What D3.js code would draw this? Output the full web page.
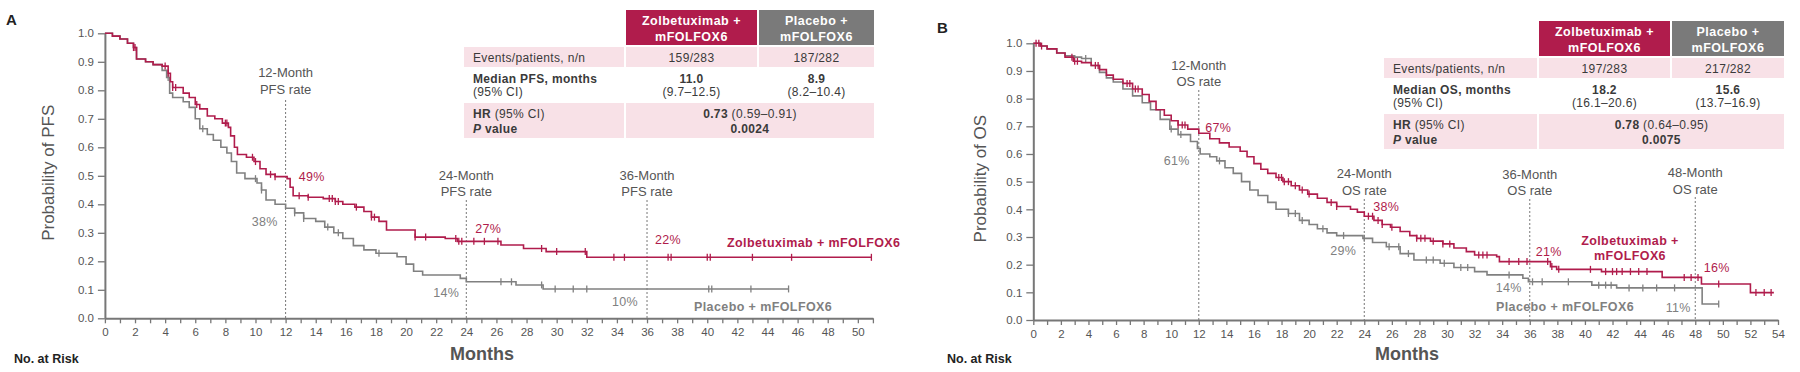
<!DOCTYPE html>
<html>
<head>
<meta charset="utf-8">
<script src="https://cdn.jsdelivr.net/npm/d3@7/dist/d3.min.js"></script>
<style>
  body { margin: 0; background: #fff; }
  text { font-family: "Liberation Sans", Arial, sans-serif; }
</style>
</head>
<body>
<svg id="chart" width="1800" height="372"></svg>
<script>
// ---- data ----
const probLabels = [0, 0.1, 0.2, 0.3, 0.4, 0.5, 0.6, 0.7, 0.8, 0.9, 1.0];
const pfsMonthLabels = [0, 2, 4, 6, 8, 10, 12, 14, 16, 18, 20, 22, 24, 26, 28, 30, 32, 34, 36, 38, 40, 42, 44, 46, 48, 50];
const osMonthLabels = [0, 2, 4, 6, 8, 10, 12, 14, 16, 18, 20, 22, 24, 26, 28, 30, 32, 34, 36, 38, 40, 42, 44, 46, 48, 50, 52, 54];

const seriesNames = ["Zolbetuximab + mFOLFOX6", "Placebo + mFOLFOX6"];

// KM steps: [month, survival after the drop]
const pfsZolb = [[0,1.0],[0.5,0.99],[1,0.98],[1.5,0.965],[1.9,0.95],[2.1,0.91],[2.7,0.90],[3.2,0.89],[3.8,0.885],
  [4.2,0.86],[4.35,0.83],[4.5,0.81],[5.2,0.79],[5.6,0.775],[6.0,0.75],[6.3,0.735],[6.8,0.71],[7.3,0.70],[7.8,0.685],
  [8.2,0.67],[8.35,0.64],[8.6,0.60],[8.8,0.575],[9.4,0.565],[9.9,0.55],[10.3,0.525],[10.7,0.505],[11.3,0.497],
  [12.1,0.49],[12.3,0.46],[12.5,0.43],[13.5,0.425],[14.5,0.42],[15.3,0.41],[15.8,0.40],[16.6,0.39],[17.2,0.375],
  [17.7,0.355],[18.2,0.34],[18.7,0.31],[20.6,0.285],[22.6,0.28],[23.4,0.27],[26.3,0.257],[27.8,0.245],[29.3,0.234],
  [32.0,0.214],[50.9,0.214]];
const pfsPlacebo = [[0,1.0],[0.5,0.99],[1,0.98],[1.5,0.965],[1.9,0.95],[2.1,0.91],[2.7,0.90],[3.2,0.89],[3.8,0.87],
  [4.1,0.845],[4.3,0.79],[4.5,0.775],[5.2,0.76],[5.6,0.74],[6.0,0.70],[6.3,0.665],[6.8,0.645],[7.2,0.625],[7.7,0.60],
  [8.1,0.58],[8.4,0.55],[8.75,0.51],[9.3,0.49],[10.1,0.475],[10.4,0.45],[10.7,0.415],[11.3,0.40],[12.0,0.386],
  [12.6,0.37],[13.2,0.35],[14.0,0.34],[14.6,0.32],[15.2,0.30],[15.8,0.28],[16.5,0.255],[17.2,0.24],[18.0,0.228],
  [19.4,0.216],[20.0,0.19],[20.5,0.165],[21.1,0.152],[23.6,0.14],[24.0,0.128],[27.3,0.117],[29.1,0.103],[45.4,0.103]];
const pfsCensorZolb = [1.9,2.0,4.0,4.2,4.5,4.7,6.1,8.0,8.1,9.8,10.0,11.0,11.3,12.9,13.5,14.9,15.1,15.3,15.5,16.7,
  17.7,17.9,20.6,21.3,23.3,23.5,23.7,24.5,25.2,26.1,29.0,30.0,31.9,33.8,34.5,37.4,37.6,40.0,40.2,43.0,45.6,50.9];
const pfsCensorPlacebo = [4.2,6.5,10.0,10.4,12.6,13.2,14.8,15.5,18.2,26.3,27.0,29.0,29.9,31.1,32.0,40.1,40.3,42.9,45.4];

const osZolb = [[0,1.0],[0.5,0.99],[1,0.98],[1.7,0.965],[2.3,0.95],[2.9,0.935],[3.5,0.93],[4.2,0.92],[4.8,0.905],
  [5.3,0.885],[5.8,0.87],[6.5,0.855],[7.2,0.835],[7.9,0.815],[8.4,0.79],[8.9,0.76],[9.5,0.74],[10.0,0.72],[10.5,0.705],
  [11.2,0.69],[12.0,0.675],[12.8,0.655],[13.5,0.64],[14.2,0.625],[15.0,0.61],[15.5,0.59],[16.0,0.565],[16.5,0.545],
  [17.0,0.53],[17.6,0.515],[18.1,0.50],[18.7,0.485],[19.3,0.47],[19.9,0.455],[20.6,0.44],[21.3,0.425],[22.0,0.41],
  [23.0,0.40],[23.5,0.39],[24.0,0.375],[24.7,0.36],[25.3,0.345],[25.9,0.335],[26.6,0.32],[27.3,0.305],[27.8,0.295],
  [28.8,0.285],[29.7,0.275],[30.5,0.26],[31.4,0.247],[32.0,0.235],[33.6,0.229],[33.8,0.211],[37.5,0.193],[37.95,0.183],
  [41.2,0.175],[45.6,0.154],[48.45,0.13],[52.0,0.099],[53.7,0.099]];
const osPlacebo = [[0,1.0],[0.5,0.99],[1,0.98],[1.7,0.965],[2.3,0.955],[3.0,0.95],[3.5,0.945],[4.2,0.92],[4.8,0.895],
  [5.3,0.875],[5.8,0.86],[6.5,0.835],[7.2,0.81],[7.9,0.785],[8.5,0.76],[9.2,0.725],[9.9,0.69],[10.5,0.67],[11.4,0.645],
  [11.9,0.62],[12.1,0.60],[12.8,0.59],[13.3,0.575],[13.9,0.55],[14.5,0.53],[15.1,0.50],[15.7,0.47],[16.3,0.45],
  [17.0,0.425],[17.6,0.40],[18.5,0.385],[19.3,0.36],[20.0,0.345],[20.6,0.33],[21.3,0.315],[22.0,0.305],[23.9,0.295],
  [24.6,0.28],[25.6,0.265],[26.6,0.24],[27.6,0.217],[29.5,0.205],[30.5,0.19],[32.0,0.175],[32.9,0.163],[35.5,0.151],
  [35.9,0.138],[40.5,0.126],[42.3,0.116],[48.5,0.058],[49.7,0.058]];
const osCensorZolb = [0.2,0.4,0.6,2.8,3.0,3.2,4.5,4.7,6.8,7.0,7.4,7.6,10.5,10.8,11.0,17.8,18.0,18.2,18.5,19.0,19.5,
  20.0,21.6,22.0,24.3,24.6,25.0,25.3,26.0,27.8,28.1,28.4,29.0,29.7,30.2,32.3,32.6,32.9,34.5,35.2,35.8,37.3,37.6,38.1,
  40.4,41.5,42.0,42.3,42.7,43.3,43.9,44.5,47.2,47.7,48.2,49.7,52.4,53.0,53.5];
const osCensorPlacebo = [3.8,10.0,10.7,13.5,18.5,19.0,19.5,21.0,22.5,24.0,25.8,26.5,27.2,28.5,29.0,29.8,31.0,31.5,
  34.5,36.2,36.9,38.8,41.0,41.5,41.9,43.2,44.2,45.2,46.5,49.7];

const pfsRateMonths = [12, 24, 36];
const pfsRatesZolb = [49, 27, 22];
const pfsRatesPlacebo = [38, 14, 10];
const osRateMonths = [12, 24, 36, 48];
const osRatesZolb = [67, 38, 21, 16];
const osRatesPlacebo = [61, 29, 14, 11];

const tableHeaders = [["Zolbetuximab +", "mFOLFOX6"], ["Placebo +", "mFOLFOX6"]];
const pfsEvents = ["159/283", "187/282"];
const pfsMedian = ["11.0", "8.9"];
const pfsMedianCI = ["(9.7–12.5)", "(8.2–10.4)"];
const pfsHR = ["0.73", "(0.59–0.91)"];
const pfsP = "0.0024";
const osEvents = ["197/283", "217/282"];
const osMedian = ["18.2", "15.6"];
const osMedianCI = ["(16.1–20.6)", "(13.7–16.9)"];
const osHR = ["0.78", "(0.64–0.95)"];
const osP = "0.0075";

// ---- styles ----
const RED = "#b01c4c", GREY = "#808080", TXT = "#555", DARK = "#3a3a3a", PINK = "#f8e1e7", HDRGREY = "#7a7a7a";

const svg = d3.select("#chart");

function survAt(steps, t) {
  let v = steps[0][1];
  for (const [m, s] of steps) { if (m <= t) v = s; else break; }
  return v;
}

function drawPanel(p) {
  const x = d3.scaleLinear().domain([0, p.xMax]).range([p.left, p.right]);
  const y = d3.scaleLinear().domain([0, 1]).range([p.bottom, p.top]);
  const g = svg.append("g");

  g.append("text").attr("x", p.letterX).attr("y", p.letterY)
    .attr("font-size", 15).attr("font-weight", "bold").attr("fill", "#222").text(p.letter);

  // axes
  const xAxis = d3.axisBottom(x)
    .tickValues(d3.range(0, p.xMax + 1))
    .tickFormat(d => p.monthLabels.includes(d) ? d : "")
    .tickSize(5).tickSizeOuter(0).tickPadding(5);
  const xa = g.append("g").attr("transform", `translate(0,${p.bottom})`).call(xAxis);
  xa.select(".domain").attr("stroke", "#777").attr("stroke-width", 2);
  xa.selectAll(".tick line").attr("stroke", "#777").attr("stroke-width", 1.3);
  xa.selectAll(".tick text").attr("font-size", 11.5).attr("fill", TXT)
    .attr("font-family", "Liberation Sans, Arial, sans-serif");

  const yAxis = d3.axisLeft(y).tickValues(probLabels).tickFormat(d3.format(".1f"))
    .tickSize(7).tickSizeOuter(0).tickPadding(4);
  const ya = g.append("g").attr("transform", `translate(${p.left},0)`).call(yAxis);
  ya.select(".domain").attr("stroke", "#777").attr("stroke-width", 2);
  ya.selectAll(".tick line").attr("stroke", "#777").attr("stroke-width", 1.3);
  ya.selectAll(".tick text").attr("font-size", 11.5).attr("fill", TXT)
    .attr("font-family", "Liberation Sans, Arial, sans-serif");

  g.append("text")
    .attr("transform", `translate(${p.yTitleX},${(p.top + p.bottom) / 2 - 3}) rotate(-90)`)
    .attr("text-anchor", "middle").attr("font-size", 17).attr("fill", TXT).text(p.yTitle);
  g.append("text").attr("x", p.monthsX).attr("y", 360).attr("text-anchor", "middle")
    .attr("font-size", 18).attr("font-weight", 600).attr("fill", TXT).text("Months");
  g.append("text").attr("x", p.riskX).attr("y", 363)
    .attr("font-size", 12.5).attr("font-weight", "bold").attr("fill", "#222").text("No. at Risk");

  // landmark lines + labels
  p.rateMonths.forEach((m, i) => {
    g.append("line").attr("x1", x(m)).attr("x2", x(m)).attr("y1", p.dashTop[i]).attr("y2", p.bottom)
      .attr("stroke", "#777").attr("stroke-width", 1).attr("stroke-dasharray", "2,2");
    const t = g.append("text").attr("text-anchor", "middle").attr("font-size", 13).attr("fill", TXT);
    t.append("tspan").attr("x", x(m)).attr("y", p.rateLabelY[i]).text(m + "-Month");
    t.append("tspan").attr("x", x(m)).attr("y", p.rateLabelY[i] + 16.5).text(p.rateWord + " rate");
  });

  // curves
  const line = d3.line().x(d => x(d[0])).y(d => y(d[1])).curve(d3.curveStepAfter);
  [[p.placebo, GREY, p.censorPlacebo], [p.zolb, RED, p.censorZolb]].forEach(([steps, col, cens]) => {
    g.append("path").datum(steps).attr("d", line)
      .attr("fill", "none").attr("stroke", col).attr("stroke-width", 1.6);
    g.selectAll(null).data(cens).join("line")
      .attr("x1", d => x(d)).attr("x2", d => x(d))
      .attr("y1", d => y(survAt(steps, d)) - 3.5).attr("y2", d => y(survAt(steps, d)) + 3.5)
      .attr("stroke", col).attr("stroke-width", 1.3);
  });

  // rate percentages
  p.rateMonths.forEach((m, i) => {
    [[p.ratesZolb[i], RED, p.zolbOff[i]], [p.ratesPlacebo[i], GREY, p.placeboOff[i]]].forEach(([r, col, off]) => {
      g.append("text").attr("x", x(m) + off[0]).attr("y", y(r / 100) + off[1] + 4.5)
        .attr("text-anchor", "middle").attr("font-size", 12.5).attr("fill", col)
        .attr("letter-spacing", 0.3).text(r + "%");
    });
  });

  // series labels
  p.seriesLabels.forEach(s => {
    const t = g.append("text").attr("text-anchor", s.anchor).attr("font-size", 12.5)
      .attr("font-weight", "bold").attr("fill", s.color).attr("letter-spacing", 0.4);
    s.lines.forEach((ln, i) => t.append("tspan").attr("x", s.x).attr("y", s.y + i * 15).text(ln));
  });

  // table
  const tb = p.table;
  const c0 = tb.x, c1 = tb.x + tb.w[0] + 2, c2 = c1 + tb.w[1] + 2, cEnd = c2 + tb.w[2];
  const tg = g.append("g");
  const hTop = tb.y, r1 = hTop + 37, r2 = r1 + 21, r3 = r2 + 35;
  [[c1, tb.w[1], RED], [c2, tb.w[2], HDRGREY]].forEach(([cx, w, col], i) => {
    tg.append("rect").attr("x", cx).attr("y", hTop).attr("width", w).attr("height", 35).attr("fill", col);
    const t = tg.append("text").attr("text-anchor", "middle").attr("font-size", 12.5)
      .attr("font-weight", "bold").attr("fill", "#fff").attr("letter-spacing", 0.5);
    tableHeaders[i].forEach((ln, j) => t.append("tspan").attr("x", cx + w / 2).attr("y", hTop + 15 + j * 16).text(ln));
  });
  [[c0, tb.w[0]], [c1, tb.w[1]], [c2, tb.w[2]]].forEach(([cx, w]) =>
    tg.append("rect").attr("x", cx).attr("y", r1).attr("width", w).attr("height", 20).attr("fill", PINK));
  tg.append("rect").attr("x", c0).attr("y", r3).attr("width", tb.w[0]).attr("height", 35).attr("fill", PINK);
  tg.append("rect").attr("x", c1).attr("y", r3).attr("width", cEnd - c1).attr("height", 35).attr("fill", PINK);

  const txt = (xx, yy, anchor) => tg.append("text").attr("x", xx).attr("y", yy).attr("text-anchor", anchor)
    .attr("font-size", 12).attr("fill", DARK).attr("letter-spacing", 0.35);
  const lx = c0 + 9;
  txt(lx, r1 + 14.5, "start").text("Events/patients, n/n");
  const med = txt(lx, r2 + 14.5, "start");
  med.append("tspan").attr("font-weight", "bold").text(tb.medianLabel);
  txt(lx, r2 + 28, "start").text("(95% CI)");
  const hr = txt(lx, r3 + 14.5, "start");
  hr.append("tspan").attr("font-weight", "bold").text("HR");
  hr.append("tspan").text(" (95% CI)");
  const pv = txt(lx, r3 + 29.5, "start");
  pv.append("tspan").attr("font-weight", "bold").attr("font-style", "italic").text("P");
  pv.append("tspan").attr("font-weight", "bold").text(" value");

  [[c1, tb.w[1]], [c2, tb.w[2]]].forEach(([cx, w], i) => {
    txt(cx + w / 2, r1 + 14.5, "middle").text(tb.events[i]);
    txt(cx + w / 2, r2 + 14.5, "middle").attr("font-weight", "bold").text(tb.median[i]);
    txt(cx + w / 2, r2 + 28, "middle").text(tb.medianCI[i]);
  });
  const hv = txt((c1 + cEnd) / 2, r3 + 14.5, "middle");
  hv.append("tspan").attr("font-weight", "bold").text(tb.hr[0]);
  hv.append("tspan").text(" " + tb.hr[1]);
  txt((c1 + cEnd) / 2, r3 + 29.5, "middle").attr("font-weight", "bold").text(tb.p);
}

drawPanel({
  letter: "A", letterX: 6, letterY: 25,
  left: 104.9, right: 872.9, top: 33.3, bottom: 318.3, xMax: 51,
  monthLabels: pfsMonthLabels, yTitle: "Probability of PFS", yTitleX: 54, monthsX: 482, riskX: 14,
  rateMonths: pfsRateMonths, rateWord: "PFS", ratesZolb: pfsRatesZolb, ratesPlacebo: pfsRatesPlacebo,
  dashTop: [100, 200, 200], rateLabelY: [77, 179.5, 179.5],
  zolbOff: [[26, -2], [22, -13], [21, -16]], placeboOff: [[-21, 11], [-20, 14], [-22, 12]],
  zolb: pfsZolb, placebo: pfsPlacebo, censorZolb: pfsCensorZolb, censorPlacebo: pfsCensorPlacebo,
  seriesLabels: [
    { lines: [seriesNames[0]], x: 727, y: 247, anchor: "start", color: RED },
    { lines: [seriesNames[1]], x: 694, y: 310.5, anchor: "start", color: GREY }
  ],
  table: { x: 464, y: 10, w: [160, 131, 115], medianLabel: "Median PFS, months",
    events: pfsEvents, median: pfsMedian, medianCI: pfsMedianCI, hr: pfsHR, p: pfsP }
});

drawPanel({
  letter: "B", letterX: 937, letterY: 33,
  left: 1033.3, right: 1778, top: 43.3, bottom: 320, xMax: 54,
  monthLabels: osMonthLabels, yTitle: "Probability of OS", yTitleX: 986, monthsX: 1407, riskX: 947,
  rateMonths: osRateMonths, rateWord: "OS", ratesZolb: osRatesZolb, ratesPlacebo: osRatesPlacebo,
  dashTop: [90, 199, 199, 197], rateLabelY: [69.5, 178, 178.5, 177],
  zolbOff: [[19.5, -7], [22, -8], [19, -10], [21.5, -8]], placeboOff: [[-22, 9], [-21, 11], [-21, 6], [-17, 18]],
  zolb: osZolb, placebo: osPlacebo, censorZolb: osCensorZolb, censorPlacebo: osCensorPlacebo,
  seriesLabels: [
    { lines: ["Zolbetuximab +", "mFOLFOX6"], x: 1630, y: 244.5, anchor: "middle", color: RED },
    { lines: [seriesNames[1]], x: 1565, y: 311, anchor: "middle", color: GREY }
  ],
  table: { x: 1384, y: 21, w: [153, 131, 112], medianLabel: "Median OS, months",
    events: osEvents, median: osMedian, medianCI: osMedianCI, hr: osHR, p: osP }
});
</script>
</body>
</html>
